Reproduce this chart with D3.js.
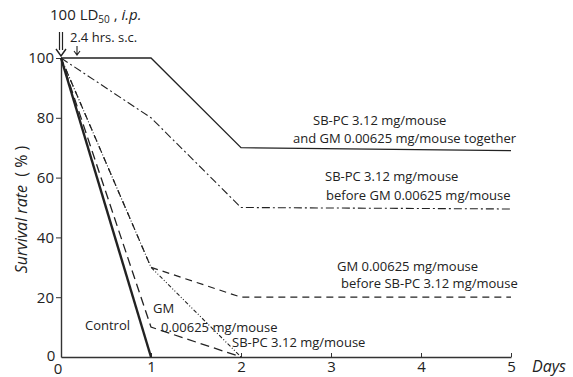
<!DOCTYPE html>
<html>
<head>
<meta charset="utf-8">
<script src="https://cdn.jsdelivr.net/npm/d3@7"></script>
<style>
  body { margin: 0; background: #fff; }
  svg { display: block; }
  text { font-family: "Open Sans", "DejaVu Sans", sans-serif; fill: #222; }
</style>
</head>
<body>
<svg id="chart"></svg>
<script>
// data
const days = [0, 1, 2, 5];
const control = [100, 0];
const gmAlone = [100, 10, 0];
const sbpcAlone = [100, 30, 0];
const together = [100, 100, 70, 69];
const sbpcBeforeGm = [100, 80, 50, 49.5];
const gmBeforeSbpc = [100, 30, 20, 20];
const yTicks = [20, 40, 60, 80, 100];
const xTicks = [1, 2, 3, 4, 5];

const width = 573, height = 377;
const svg = d3.select("#chart").attr("width", width).attr("height", height);

const x = d3.scaleLinear().domain([0, 5]).range([61, 511]);
const y = d3.scaleLinear().domain([0, 100]).range([357, 58]);

// axes
const gy = svg.append("g").attr("transform", `translate(${x(0)},0)`)
  .call(d3.axisLeft(y).tickValues(yTicks).tickSize(5).tickSizeOuter(0).tickPadding(2));
gy.select(".domain").attr("stroke", "#333").attr("stroke-width", 1.4);
gy.selectAll(".tick line").attr("stroke", "#333");
gy.selectAll(".tick text").style("font-size", "15px").attr("fill", "#222");

const gx = svg.append("g").attr("transform", `translate(0,${y(0)})`)
  .call(d3.axisBottom(x).tickValues(xTicks).tickFormat(d3.format("d"))
    .tickSize(-4).tickSizeOuter(0).tickPadding(4));
gx.select(".domain").attr("stroke", "#333").attr("stroke-width", 1.4);
gx.selectAll(".tick line").attr("stroke", "#333");
gx.selectAll(".tick text").style("font-size", "15px").attr("fill", "#222");

// the two zeros
svg.append("text").attr("x", x(0) - 10).attr("y", y(0) + 4).attr("text-anchor", "middle")
  .style("font-size", "15px").text("0");
svg.append("text").attr("x", x(0) - 3).attr("y", y(0) + 17).attr("text-anchor", "middle")
  .style("font-size", "15px").text("0");

svg.append("text").attr("x", 532).attr("y", 372)
  .style("font-size", "16px").style("font-style", "italic").text("Days");

svg.append("text")
  .attr("transform", `translate(27,${y(50) + 2}) rotate(-90)`)
  .attr("text-anchor", "middle").style("font-size", "16px")
  .html('<tspan font-style="italic">Survival rate</tspan>&#160;&#160;( % )');

// lines
const line = d3.line().x((d, i) => x(days[i])).y(d => y(d));
const series = [
  { v: control, w: 2.4, dash: null },
  { v: gmAlone, w: 1.3, dash: "9,5" },
  { v: sbpcAlone, w: 1.1, dash: "4,2,1,2,1,2" },
  { v: together, w: 1.3, dash: null },
  { v: sbpcBeforeGm, w: 1.1, dash: "8,3,2,3" },
  { v: gmBeforeSbpc, w: 1.2, dash: "7,5" }
];
svg.append("g").selectAll("path").data(series).enter().append("path")
  .attr("d", d => line(d.v))
  .attr("fill", "none")
  .attr("stroke", "#222")
  .attr("stroke-width", d => d.w)
  .attr("stroke-dasharray", d => d.dash);

// annotations
const labels = [
  { x: 313, y: 125, t: "SB-PC 3.12 mg/mouse" },
  { x: 293, y: 143, t: "and GM 0.00625 mg/mouse  together" },
  { x: 325, y: 181, t: "SB-PC 3.12 mg/mouse" },
  { x: 326, y: 200, t: "before GM 0.00625 mg/mouse" },
  { x: 337, y: 271, t: "GM 0.00625 mg/mouse" },
  { x: 341, y: 288, t: "before SB-PC 3.12 mg/mouse" },
  { x: 85, y: 330, t: "Control" },
  { x: 153, y: 313, t: "GM" },
  { x: 161, y: 332, t: "0.00625 mg/mouse" },
  { x: 232, y: 347, t: "SB-PC 3.12 mg/mouse" }
];
svg.append("g").selectAll("text").data(labels).enter().append("text")
  .attr("x", d => d.x).attr("y", d => d.y)
  .style("font-size", "13px")
  .text(d => d.t);

svg.append("text").attr("x", 50).attr("y", 20).style("font-size", "15px")
  .html('100 LD<tspan font-size="10" dy="3">50</tspan><tspan dy="-3"> , </tspan><tspan font-style="italic">i.p.</tspan>');
svg.append("text").attr("x", 70).attr("y", 42).style("font-size", "13px").text("2.4 hrs. s.c.");

// arrows
const arr = svg.append("g").attr("stroke", "#222").attr("fill", "none");
arr.append("path").attr("d", `M${x(0) - 1.5},32 V50 M${x(0) + 1.5},32 V50`).attr("stroke-width", 1.2);
arr.append("path").attr("d", `M${x(0) - 5},49 L${x(0)},56 L${x(0) + 5},49`).attr("stroke-width", 1.4);
arr.append("path").attr("d", `M77,46 V55 M74,51 L77,55 L80,51`).attr("stroke-width", 1.1);
</script>
</body>
</html>
